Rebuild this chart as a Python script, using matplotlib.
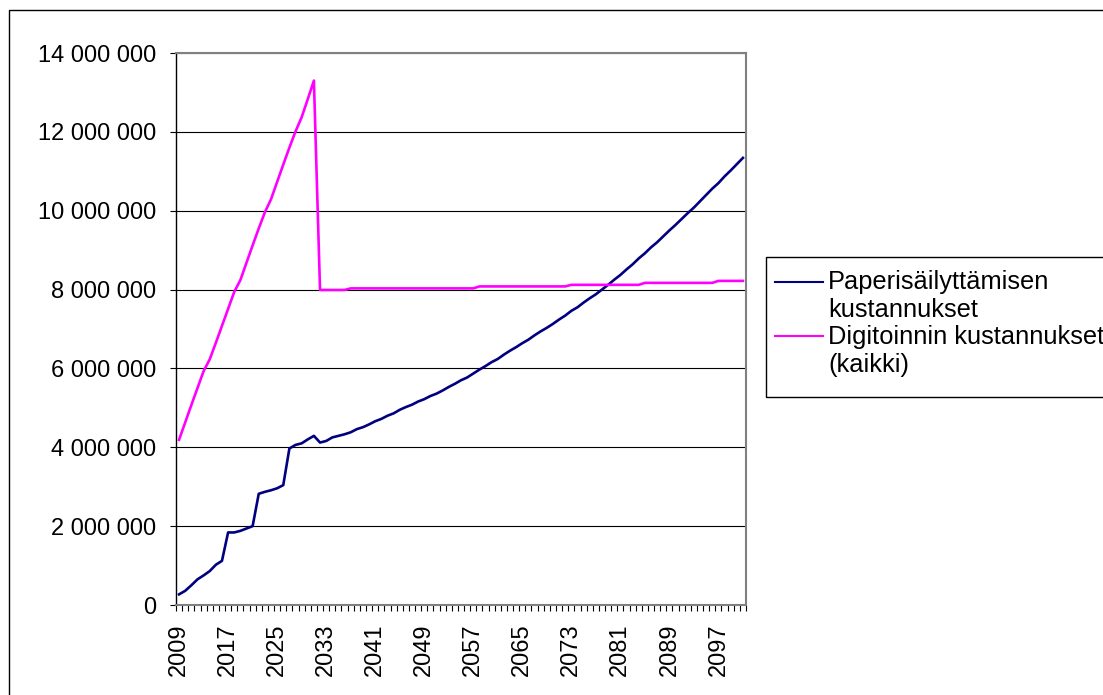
import matplotlib
matplotlib.use('Agg')
import matplotlib.pyplot as plt
from matplotlib.patches import Rectangle
from matplotlib.lines import Line2D
from matplotlib.ticker import FuncFormatter, FixedLocator

plt.rcParams['font.family'] = ['Liberation Sans', 'DejaVu Sans']

years = list(range(2009, 2102))

# millions of euros
paper = [
	0.27, 0.36, 0.50, 0.65, 0.75, 0.86, 1.02, 1.12, 1.84, 1.84,
	1.88, 1.94, 2.00, 2.82, 2.87, 2.91, 2.96, 3.04, 3.97, 4.06,
	4.10, 4.20, 4.29, 4.12, 4.16, 4.25, 4.29, 4.33, 4.38, 4.46,
	4.51, 4.58, 4.66, 4.72, 4.80, 4.86, 4.95, 5.02, 5.08, 5.16,
	5.22, 5.30, 5.36, 5.44, 5.53, 5.61, 5.70, 5.77, 5.87, 5.97,
	6.06, 6.16, 6.24, 6.35, 6.45, 6.54, 6.64, 6.73, 6.84, 6.94,
	7.03, 7.13, 7.24, 7.34, 7.46, 7.55, 7.67, 7.78, 7.88, 8.00,
	8.12, 8.25, 8.37, 8.51, 8.64, 8.79, 8.92, 9.07, 9.20, 9.35,
	9.50, 9.64, 9.79, 9.94, 10.08, 10.24, 10.40, 10.56, 10.70, 10.87,
	11.02, 11.18, 11.34,
]

digital = [
	4.19, 4.63, 5.07, 5.50, 5.93, 6.23, 6.65, 7.08, 7.51, 7.94,
	8.24, 8.68, 9.12, 9.55, 9.96, 10.29, 10.73, 11.17, 11.60, 12.01,
	12.37, 12.83, 13.30, 7.99, 7.99, 7.99, 7.99, 7.99, 8.03, 8.03,
	8.03, 8.03, 8.03, 8.03, 8.03, 8.03, 8.03, 8.03, 8.03, 8.03,
	8.03, 8.03, 8.03, 8.03, 8.03, 8.03, 8.03, 8.03, 8.03, 8.08,
	8.08, 8.08, 8.08, 8.08, 8.08, 8.08, 8.08, 8.08, 8.08, 8.08,
	8.08, 8.08, 8.08, 8.08, 8.12, 8.12, 8.12, 8.12, 8.12, 8.12,
	8.12, 8.12, 8.12, 8.12, 8.12, 8.12, 8.17, 8.17, 8.17, 8.17,
	8.17, 8.17, 8.17, 8.17, 8.17, 8.17, 8.17, 8.17, 8.22, 8.22,
	8.22, 8.22, 8.22,
]

labels = [['Paperisäilyttämisen', 'kustannukset'], ['Digitoinnin kustannukset', '(kaikki)']]
colors = ['#000080', '#FF00FF']

W, H = 1103, 695
fs = 17
fig = plt.figure(figsize=(W / 100, H / 100), dpi=100)
fig.patch.set_facecolor('white')

# chart area border
fig.add_artist(Rectangle((9 / W, -0.1), 1.2, 1 - 10 / H + 0.1, transform=fig.transFigure,
	fill=False, edgecolor='black', linewidth=1))

ax = fig.add_axes([176 / W, 1 - 605 / H, (746 - 176) / W, (605 - 53) / H])

ax.plot(years, [v * 1e6 for v in paper], color=colors[0], linewidth=1.9, solid_joinstyle='round')
ax.plot(years, [v * 1e6 for v in digital], color=colors[1], linewidth=1.9, solid_joinstyle='round')

ax.set_xlim(years[0] - 0.5, years[-1] + 0.5)
ax.set_ylim(0, 14e6)

ax.set_yticks([i * 2e6 for i in range(8)])
ax.yaxis.set_major_formatter(FuncFormatter(lambda v, p: '{:,.0f}'.format(v).replace(',', ' ')))
ax.grid(axis='y', color='black', linewidth=0.8)
ax.set_axisbelow(True)

ax.xaxis.set_major_locator(FixedLocator(years[::8]))
ax.xaxis.set_minor_locator(FixedLocator([y - 0.5 for y in years] + [years[-1] + 0.5]))
ax.set_xticklabels([str(y) for y in years[::8]], rotation=90)
ax.tick_params(axis='x', which='major', length=0, pad=13, labelsize=fs)
ax.tick_params(axis='x', which='minor', length=4.5, width=0.8, color='black')
ax.tick_params(axis='y', length=4.5, width=0.8, color='black', labelsize=fs, pad=9.5)

for s in ['top', 'right']:
	ax.spines[s].set_color('#808080')
	ax.spines[s].set_linewidth(1.5)
ax.spines['left'].set_color('black')
ax.spines['left'].set_linewidth(1)
ax.spines['bottom'].set_color('#808080')
ax.spines['bottom'].set_linewidth(1.5)

# legend drawn by hand, Excel style (line on the first text row)
fig.add_artist(Rectangle((766 / W, 1 - 397 / H), 0.5, 140 / H, transform=fig.transFigure,
	fill=False, edgecolor='black', linewidth=1))
line_y = [282, 336]
base_y = [[289, 317], [344, 372]]
for lab, col, ly, bys in zip(labels, colors, line_y, base_y):
	yf = 1 - ly / H
	fig.add_artist(Line2D([775 / W, 823 / W], [yf, yf], transform=fig.transFigure, color=col, linewidth=1.5))
	for txt, by in zip(lab, bys):
		fig.text(828 / W, 1 - by / H, txt, fontsize=18.3, va='baseline', ha='left')

fig.savefig('out.png', dpi=100)
